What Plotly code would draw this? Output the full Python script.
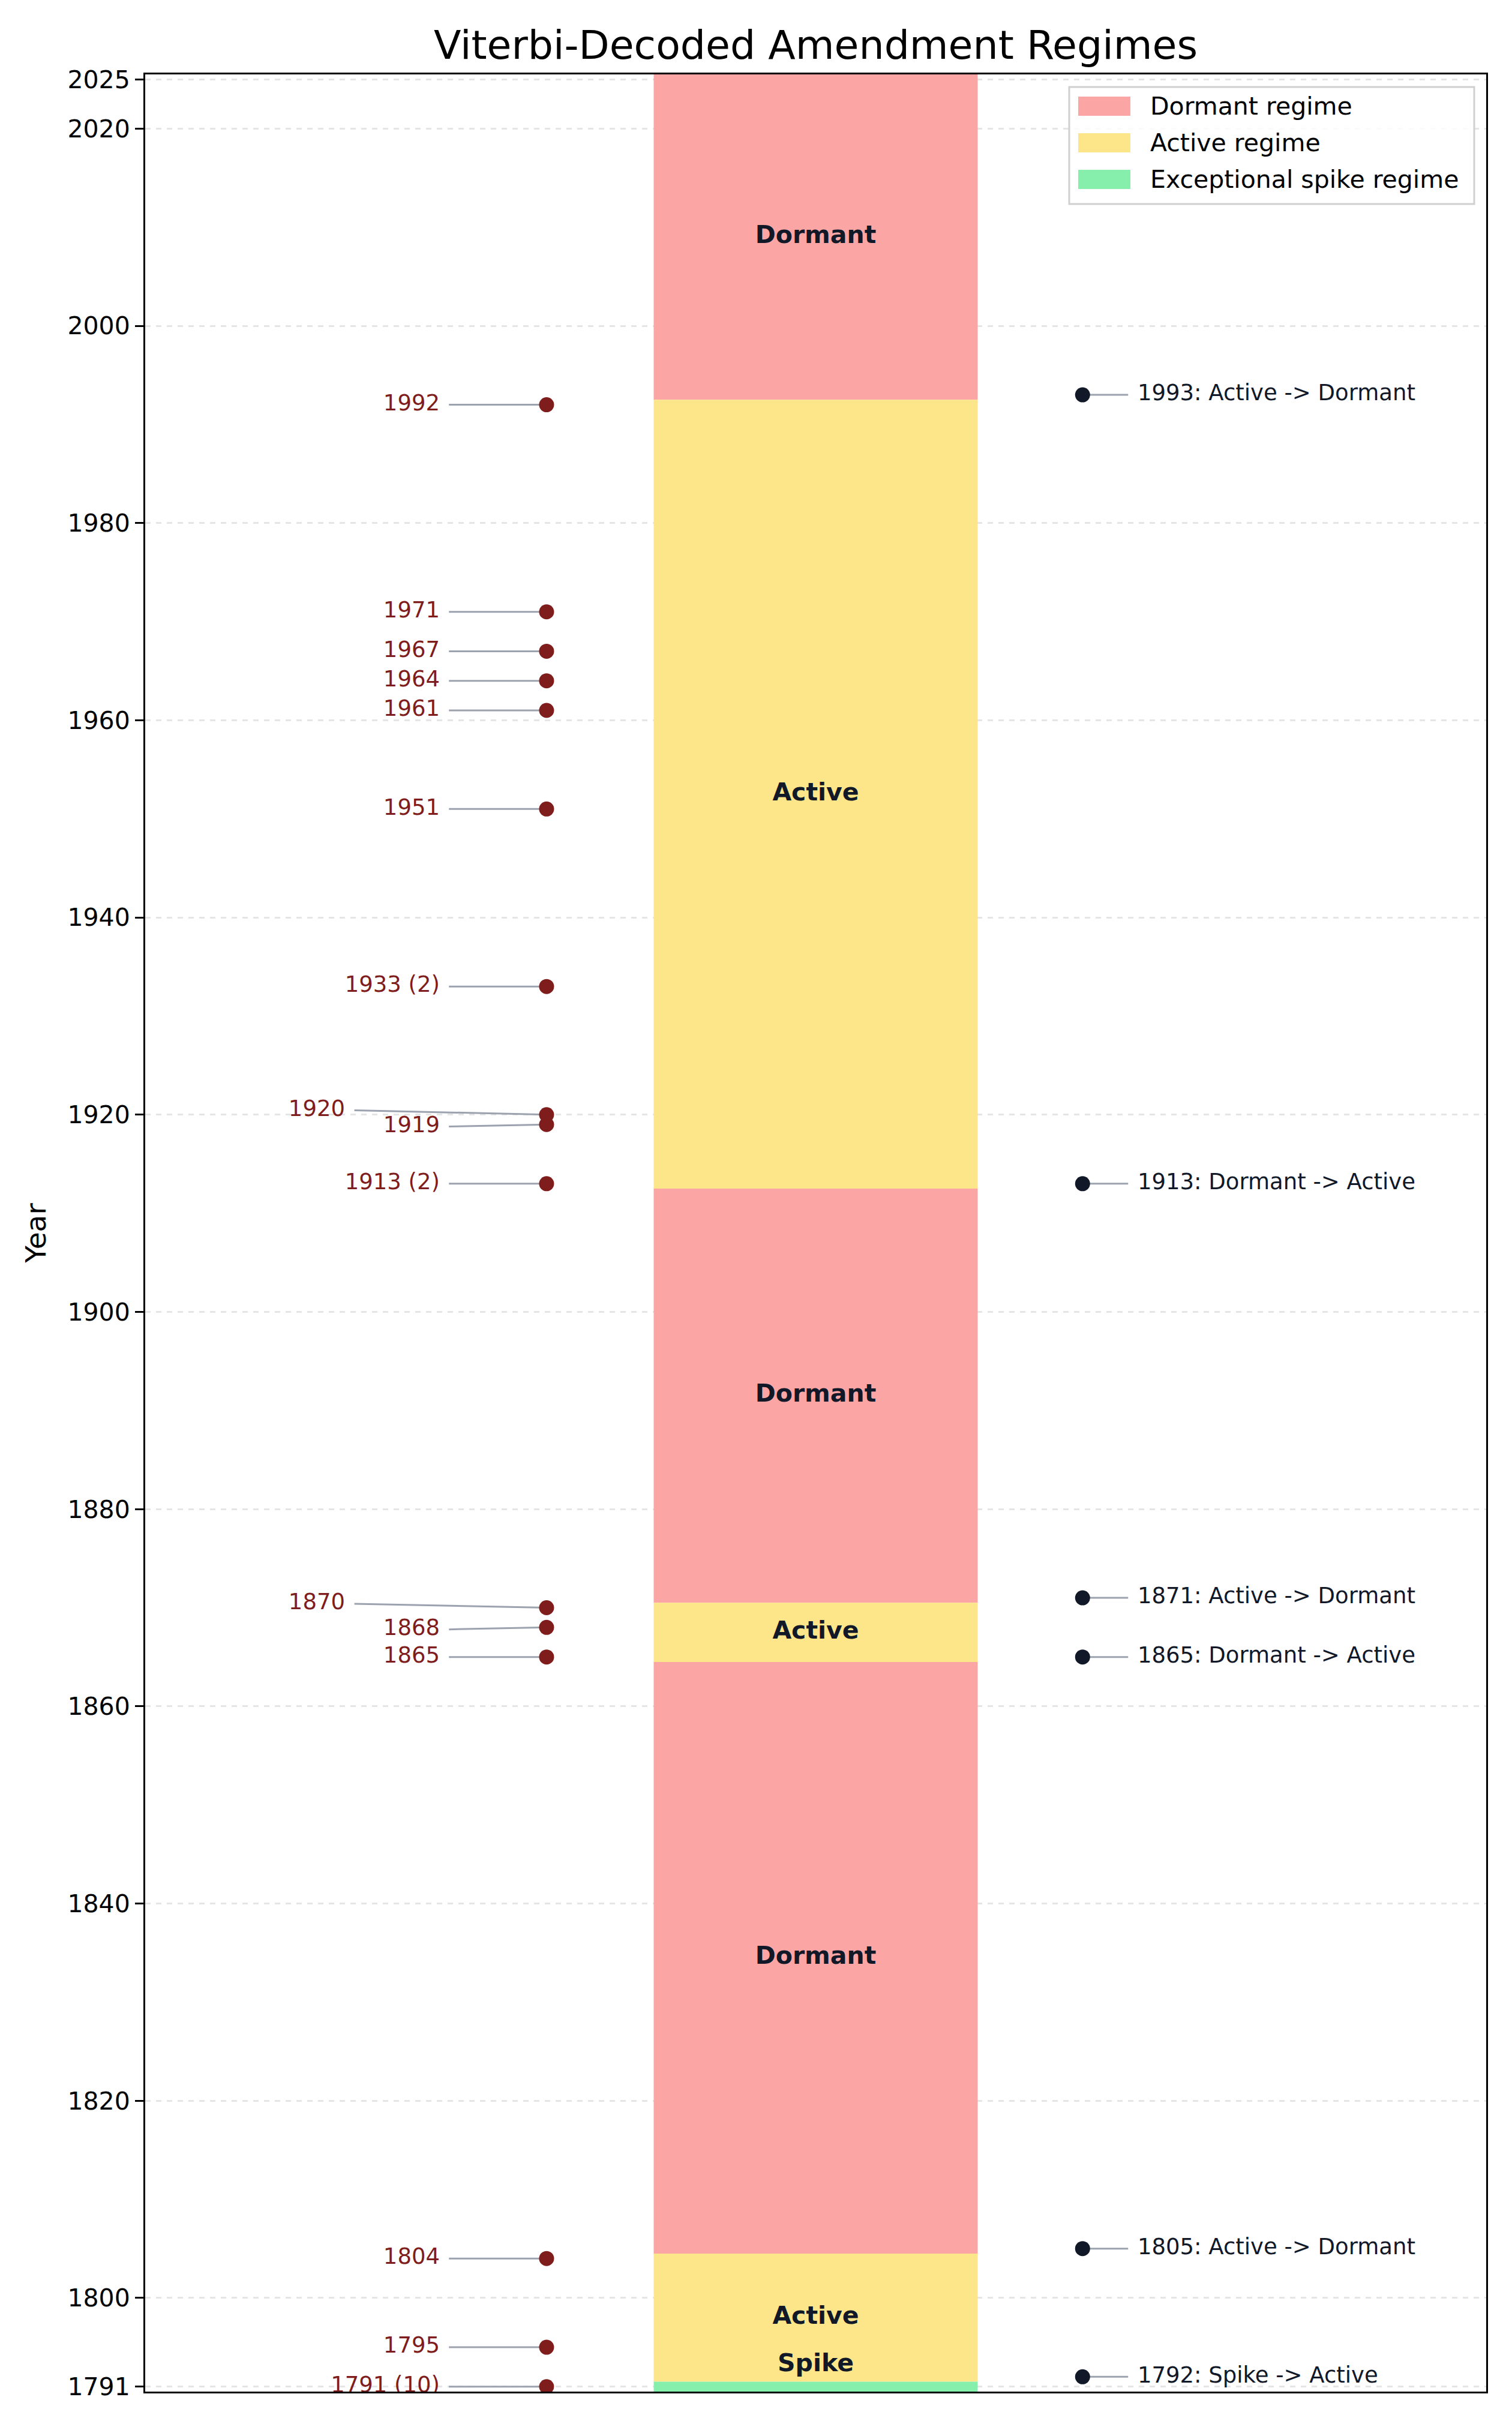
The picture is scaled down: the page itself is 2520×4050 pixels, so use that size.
import plotly.graph_objects as go

# ---------------- data ----------------
regime_states = ["Spike", "Active", "Dormant", "Active", "Dormant", "Active", "Dormant"]
regime_start = [1790.5, 1791.5, 1804.5, 1864.5, 1870.5, 1912.5, 1992.5]
regime_end = [1791.5, 1804.5, 1864.5, 1870.5, 1912.5, 1992.5, 2025.5]

amend_years = [1791, 1795, 1804, 1865, 1868, 1870, 1913, 1919, 1920, 1933, 1951, 1961, 1964, 1967, 1971, 1992]
amend_counts = [10, 1, 1, 1, 1, 1, 2, 1, 1, 2, 1, 1, 1, 1, 1, 1]

trans_years = [1792, 1805, 1865, 1871, 1913, 1993]
trans_from = ["Spike", "Active", "Dormant", "Active", "Dormant", "Active"]
trans_to = ["Active", "Dormant", "Active", "Dormant", "Active", "Dormant"]

y_ticks = [1791, 1800, 1820, 1840, 1860, 1880, 1900, 1920, 1940, 1960, 1980, 2000, 2020, 2025]

# ---------------- styling / layout constants ----------------
W, H = 2520, 4050
ML, MR, MT, MB = 242, 43, 124, 64
PW, PH = W - ML - MR, H - MT - MB
Y_RANGE = [1790.5, 2025.5]

COLORS = {"Dormant": "#FCA5A5", "Active": "#FDE68A", "Spike": "#86EFAC"}
LEGEND_NAMES = {"Dormant": "Dormant regime", "Active": "Active regime", "Spike": "Exceptional spike regime"}
DOT_L = "#7F1D1D"
DOT_R = "#111827"
LINE_C = "#9CA3AF"
FONT = "DejaVu Sans"

X_BAND, BAND_W = 0.5, 0.2416
X_DOT_L, X_LINE_L, X_LBL_L = 0.2993, 0.2265, 0.2197
X_LINE_L_FAR, X_LBL_L_FAR = 0.1560, 0.1490
X_DOT_R, X_LINE_R, X_TXT_R = 0.699, 0.733, 0.740

# label dodge for crowded amendment labels (year -> (dy, far))
LABEL_DODGE = {1868: (-0.2, False), 1870: (0.4, True), 1919: (-0.2, False), 1920: (0.45, True)}

fig = go.Figure()

# regime bands (bars)
for state in ["Dormant", "Active", "Spike"]:
    idx = [i for i, s in enumerate(regime_states) if s == state]
    fig.add_trace(go.Bar(
        x=[X_BAND] * len(idx),
        base=[regime_start[i] for i in idx],
        y=[regime_end[i] - regime_start[i] for i in idx],
        width=BAND_W,
        marker=dict(color=COLORS[state], line=dict(width=0)),
        name=LEGEND_NAMES[state],
        showlegend=False,
        hoverinfo="skip",
    ))

# regime labels
reg_lbl_y = []
for s, e in zip(regime_start, regime_end):
    mid = (s + e) / 2
    if e - s < 3:
        mid = s + 2.7
    reg_lbl_y.append(mid)
fig.add_trace(go.Scatter(
    x=[X_BAND] * len(regime_states), y=reg_lbl_y,
    mode="text", text=[f"<b>{s}</b>" for s in regime_states],
    textposition="middle center",
    textfont=dict(family=FONT, size=41, color="#111827"),
    showlegend=False, hoverinfo="skip",
))

# left amendment connectors
lx, ly, tx, ty, tt = [], [], [], [], []
for yr, c in zip(amend_years, amend_counts):
    dy, far = LABEL_DODGE.get(yr, (0.0, False))
    ys = yr + dy
    lx += [X_LINE_L_FAR if far else X_LINE_L, X_DOT_L, None]
    ly += [ys, yr, None]
    tx.append(X_LBL_L_FAR if far else X_LBL_L)
    ty.append(ys)
    tt.append(f"{yr} ({c})" if c > 1 else f"{yr}")
fig.add_trace(go.Scatter(x=lx, y=ly, mode="lines", line=dict(color=LINE_C, width=3),
                         showlegend=False, hoverinfo="skip"))
fig.add_trace(go.Scatter(x=[X_DOT_L] * len(amend_years), y=amend_years, mode="markers",
                         marker=dict(color=DOT_L, size=25, line=dict(width=0)),
                         showlegend=False, hoverinfo="skip"))
fig.add_trace(go.Scatter(x=tx, y=ty, mode="text", text=tt, textposition="middle left",
                         textfont=dict(family=FONT, size=37, color=DOT_L),
                         showlegend=False, hoverinfo="skip"))

# right transitions
t_y = list(trans_years)
rx, ry = [], []
for yv in t_y:
    rx += [X_DOT_R, X_LINE_R, None]
    ry += [yv, yv, None]
fig.add_trace(go.Scatter(x=rx, y=ry, mode="lines", line=dict(color=LINE_C, width=3),
                         showlegend=False, hoverinfo="skip"))
fig.add_trace(go.Scatter(x=[X_DOT_R] * len(t_y), y=t_y, mode="markers",
                         marker=dict(color=DOT_R, size=25, line=dict(width=0)),
                         showlegend=False, hoverinfo="skip"))
fig.add_trace(go.Scatter(x=[X_TXT_R] * len(t_y), y=t_y, mode="text",
                         text=[f"{y}: {a} -> {b}" for y, a, b in zip(trans_years, trans_from, trans_to)],
                         textposition="middle right",
                         textfont=dict(family=FONT, size=37, color=DOT_R),
                         showlegend=False, hoverinfo="skip"))

# ---------------- manual legend (layout, paper coords) ----------------
def px_x(p):
    return (p - ML) / PW

def px_y(p):
    return (H - MB - p) / PH

shapes = [dict(type="rect", xref="paper", yref="paper",
               x0=px_x(1782), x1=px_x(2457), y0=px_y(340), y1=px_y(145),
               line=dict(color="#D0D0D0", width=3), fillcolor="rgba(255,255,255,0.85)", layer="above")]
annotations = []
for i, state in enumerate(["Dormant", "Active", "Spike"]):
    cy = 177 + 61 * i
    shapes.append(dict(type="rect", xref="paper", yref="paper",
                       x0=px_x(1797), x1=px_x(1884), y0=px_y(cy + 16), y1=px_y(cy - 16),
                       line=dict(width=0), fillcolor=COLORS[state], layer="above"))
    annotations.append(dict(xref="paper", yref="paper", x=px_x(1915), y=px_y(cy),
                            xanchor="left", yanchor="middle", showarrow=False,
                            text=LEGEND_NAMES[state], font=dict(family=FONT, size=41, color="black")))

fig.update_layout(
    width=W, height=H,
    margin=dict(l=ML, r=MR, t=MT, b=MB, autoexpand=False),
    paper_bgcolor="white", plot_bgcolor="white",
    barmode="overlay",
    font=dict(family=FONT, color="black"),
    title=dict(text="Viterbi-Decoded Amendment Regimes", x=0.5, xref="paper",
               y=1 - 75 / H, yref="container", xanchor="center", yanchor="middle",
               font=dict(family=FONT, size=66.5, color="black")),
    showlegend=False,
    shapes=shapes,
    annotations=annotations,
    xaxis=dict(range=[0, 1], showticklabels=False, showgrid=False, zeroline=False,
               showline=True, mirror=True, linecolor="black", linewidth=3, ticks=""),
    yaxis=dict(range=Y_RANGE, tickvals=y_ticks, ticktext=[str(t) for t in y_ticks],
               showgrid=True, gridcolor="#E5E5E5", gridwidth=2.5, griddash="dash",
               zeroline=False, showline=True, mirror=True, linecolor="black", linewidth=3,
               ticks="outside", ticklen=14, tickwidth=3, tickcolor="black",
               tickfont=dict(family=FONT, size=41, color="black"),
               title=dict(text="Year", font=dict(family=FONT, size=47, color="black"), standoff=22)),
)

fig.write_html("out.html")
